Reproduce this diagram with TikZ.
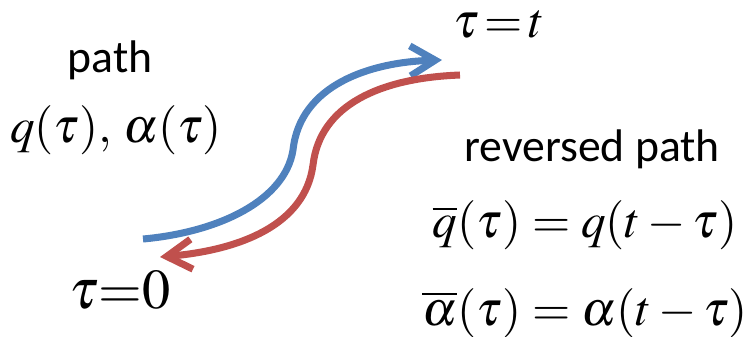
\documentclass[tikz,border=0pt]{standalone}
\usepackage{mathptmx}
\usepackage[no-math]{fontspec}
\newfontfamily\calibri{Carlito}
\usepackage{tikz}
\usetikzlibrary{arrows.meta,positioning}
\definecolor{pathblue}{RGB}{79,129,189}
\definecolor{pathred}{RGB}{192,80,77}

\begin{document}
\begin{tikzpicture}[x=0.02cm,y=-0.02cm,
lbl/.style={font=\calibri\fontsize{26}{30}\selectfont,inner sep=0pt},
eqn/.style={font=\fontsize{28}{34}\selectfont,inner sep=0pt},
trip/.style={line width=4pt,-{Straight Barb[length=5mm,width=6mm]}}]
\useasboundingbox (0,0) rectangle (749,336);
% labels
\draw
(110,60)node[lbl](path){path}
(116,130)node[eqn](fwd){$q(\tau),\,\alpha(\tau)$}
(499,25)node[eqn](tt){$\tau\,{=}\,t$}
(120,290)node[eqn,font=\fontsize{32}{38}\selectfont](t0){$\tau{=}0$}
(592,149)node[lbl](rev){reversed path}
(585,225)node[eqn](qbar){$\overline{q}(\tau)=q(t-\tau)$}
(585,313)node[eqn](abar){$\overline{\alpha}(\tau)=\alpha(t-\tau)$};
% ends of the two paths
\coordinate (bstart) at (143,239);
\coordinate (bmid) at (293,150);
\coordinate (bend) at (442,60);
\coordinate (rstart) at (460,75);
\coordinate (rmid) at (313,165);
\coordinate (rend) at (160,257);
\draw[trip,pathblue](bstart)..controls(220,232)and(285,200)..(bmid)
..controls(300,85)and(370,62)..(bend);
\draw[trip,pathred](rstart)..controls(380,78)and(320,105)..(rmid)
..controls(305,225)and(240,250)..(rend);
\end{tikzpicture}
\end{document}
